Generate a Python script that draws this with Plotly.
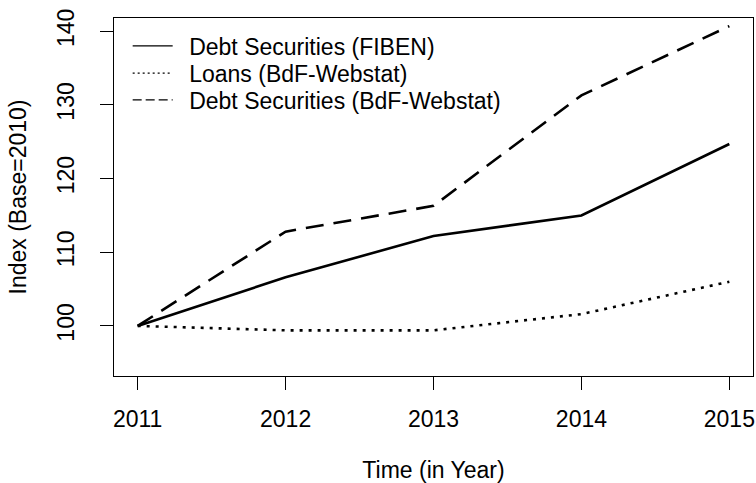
import plotly.graph_objects as go

# data
years = [2011, 2012, 2013, 2014, 2015]
debt_fiben = [100.0, 106.6, 112.2, 115.0, 124.7]
loans_webstat = [100.0, 99.4, 99.4, 101.6, 106.0]
debt_webstat = [100.0, 112.8, 116.3, 131.3, 140.7]

series_names = [
    'Debt Securities (FIBEN)',
    'Loans (BdF-Webstat)',
    'Debt Securities (BdF-Webstat)',
]
y_ticks = [100, 110, 120, 130, 140]

FONT = 'Liberation Sans, Arial, sans-serif'
FS = 23
dashes = ['solid', '3px,6px', '18px,10px']
legend_dashes = ['solid', '2px,3px', '9px,4px']
legend_ids = ['legend', 'legend2', 'legend3']
legend_rows = [0.922, 0.846, 0.771]

fig = go.Figure()
#------------------ series ------------------#
for name, vals, dash in zip(series_names, [debt_fiben, loans_webstat, debt_webstat], dashes):
    fig.add_trace(go.Scatter(
        x=years, y=vals, mode='lines', name=name, showlegend=False,
        line=dict(color='black', width=2.6, dash=dash),
    ))
#------------------ legend entries (thin, like R's legend) ------------------#
for name, dash, lg in zip(series_names, legend_dashes, legend_ids):
    fig.add_trace(go.Scatter(
        x=[None], y=[None], mode='lines', name='\u2002' + name, legend=lg,
        line=dict(color='black', width=1.3, dash=dash),
    ))

axis_common = dict(
    automargin=False,
    showgrid=False, zeroline=False,
    showline=True, mirror=True, linecolor='black', linewidth=1,
    ticks='outside', ticklen=13, tickwidth=1, tickcolor='black',
    tickfont=dict(family=FONT, size=FS, color='black'),
)
fig.update_xaxes(
    range=[2010.84, 2015.16], tickvals=years,
    title=dict(text='Time (in Year)', font=dict(family=FONT, size=FS, color='black'), standoff=38),
    ticklabelstandoff=9,
    **axis_common,
)
fig.update_yaxes(
    range=[93.2, 141.8], tickvals=y_ticks, tickangle=-90,
    title=dict(text='Index (Base=2010)', font=dict(family=FONT, size=FS, color='black'), standoff=19),
    ticklabelstandoff=17,
    **axis_common,
)
legend_style = dict(
    x=0.0214, xanchor='left', yanchor='middle',
    bgcolor='rgba(0,0,0,0)', borderwidth=0,
    font=dict(family=FONT, size=FS, color='black'),
    itemwidth=40,
)
fig.update_layout(
    template='none',
    width=756, height=483,
    margin=dict(l=114, r=3, t=18, b=107),
    plot_bgcolor='white', paper_bgcolor='white',
    font=dict(family=FONT, size=FS, color='black'),
    **{lg: dict(y=yy, **legend_style) for lg, yy in zip(legend_ids, legend_rows)},
)
fig.write_html(
    'out.html',
    config={'displayModeBar': False},
    post_script="document.body.style.margin='0';",
)
